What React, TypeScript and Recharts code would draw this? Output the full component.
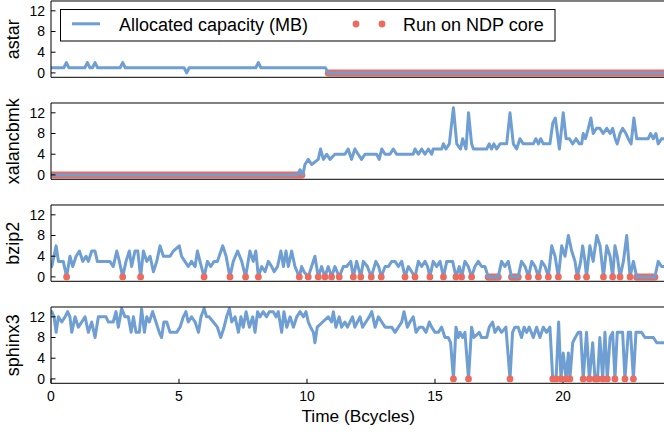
import React from 'react';
import { ComposedChart, Line, XAxis, YAxis } from 'recharts';

type Pt = [number, number];

// time (Bcycles), allocated capacity (MB)
const astar: Pt[] = [
  [0, 1], [0.5, 1], [0.6, 2], [0.7, 1], [1.32, 1], [1.42, 2], [1.52, 1], [1.62, 1], [1.72, 2], [1.82, 1],
  [2.7, 1], [2.8, 2], [2.9, 1], [5.2, 1], [5.3, 0], [5.4, 1], [8.0, 1], [8.1, 2], [8.2, 1], [10.72, 1],
  [10.83, 0], [24.2, 0],
];
const astarNdpDots: number[] = [];
const astarNdpRuns: Pt[] = [[10.83, 24.5]];

const xalanc: Pt[] = [
  [0, 0], [9.62, 0], [9.73, 1], [9.84, 0], [9.92, 2], [10.05, 3], [10.18, 2], [10.31, 2.5], [10.44, 3], [10.53, 5],
  [10.64, 3], [10.77, 4], [10.9, 3], [11.09, 4], [11.48, 4], [11.61, 5], [11.74, 3], [11.87, 5], [12.0, 4], [12.13, 3],
  [12.27, 4], [12.72, 4], [12.82, 3], [12.92, 5], [13.05, 4], [13.24, 4], [13.37, 5], [13.5, 4], [14.15, 4], [14.22, 5],
  [14.35, 4], [14.48, 5], [14.61, 4], [14.74, 5], [14.87, 4], [14.93, 5], [15.26, 5], [15.33, 6], [15.43, 5], [15.56, 6],
  [15.72, 13], [15.85, 6], [16.0, 5], [16.08, 7], [16.21, 5], [16.31, 12], [16.43, 6], [16.5, 5], [17.02, 5], [17.12, 6],
  [17.21, 5], [17.3, 6], [17.41, 5], [17.54, 6], [17.8, 6], [17.93, 12], [18.06, 6], [18.19, 5], [18.32, 7], [18.45, 6],
  [18.84, 6], [18.94, 7], [19.04, 6], [19.13, 7], [19.23, 6], [19.49, 6], [19.6, 10], [19.7, 11], [19.86, 5], [20.01, 12],
  [20.12, 7], [20.25, 7], [20.38, 6], [20.51, 7], [20.64, 6], [20.73, 6], [20.79, 8], [20.88, 7], [20.99, 9], [21.09, 11],
  [21.18, 8], [21.31, 9], [21.44, 9], [21.57, 8], [21.71, 9], [21.84, 8], [21.94, 9], [22.04, 7], [22.12, 6], [22.23, 8],
  [22.33, 9], [22.46, 8], [22.55, 7], [22.66, 6], [22.77, 11], [22.88, 7], [23.33, 7], [23.42, 8], [23.53, 7], [23.63, 8],
  [23.72, 6], [23.85, 7], [23.98, 7], [24.2, 7],
];
const xalancNdpDots: number[] = [];
const xalancNdpRuns: Pt[] = [[0, 9.8]];

const bzip2: Pt[] = [
  [0, 2], [0.03, 2], [0.2, 6], [0.29, 3], [0.48, 3], [0.61, 0], [0.74, 4], [0.85, 2], [0.98, 4], [1.11, 5],
  [1.24, 3], [1.37, 4], [1.46, 3], [1.59, 5], [1.72, 5], [1.81, 3], [2.3, 3], [2.43, 2], [2.57, 5], [2.67, 3],
  [2.8, 0], [2.93, 3], [3.06, 5], [3.15, 2], [3.28, 5], [3.39, 5], [3.5, 0], [3.61, 5], [3.74, 3], [3.87, 4],
  [4.0, 1], [4.13, 3], [4.26, 6], [4.39, 4], [4.65, 4], [4.78, 5], [5.01, 6], [5.1, 4], [5.23, 3], [5.36, 2],
  [5.49, 3], [5.63, 2], [5.72, 5], [5.82, 3], [5.98, 0], [6.11, 3], [6.24, 2], [6.37, 3], [6.5, 3], [6.71, 6],
  [6.84, 4], [6.99, 0], [7.12, 3], [7.29, 5], [7.45, 3], [7.6, 0], [7.77, 5], [7.9, 3], [8.0, 5], [8.1, 0],
  [8.23, 2], [8.36, 1], [8.49, 3], [8.62, 2], [8.72, 1], [8.85, 2], [8.98, 5], [9.08, 2], [9.18, 5], [9.27, 2],
  [9.4, 5], [9.53, 2], [9.7, 0], [9.79, 2], [9.88, 1], [10.05, 0], [10.18, 2], [10.31, 4], [10.44, 0], [10.57, 2],
  [10.7, 0], [10.83, 2], [10.96, 0], [11.09, 2], [11.26, 0], [11.42, 2], [11.55, 2], [11.71, 3], [11.81, 0], [11.94, 3],
  [12.1, 0], [12.2, 3], [12.36, 2], [12.51, 0], [12.69, 3], [12.8, 2], [12.9, 0], [13.05, 2], [13.18, 2], [13.31, 3],
  [13.44, 3], [13.57, 2], [13.7, 3], [13.83, 0], [13.96, 2], [14.09, 1], [14.22, 0], [14.35, 3], [14.48, 2], [14.61, 3],
  [14.71, 2], [14.8, 0], [14.93, 3], [15.07, 2], [15.2, 3], [15.33, 0], [15.46, 3], [15.69, 3], [15.82, 0], [15.95, 2],
  [16.04, 0], [16.17, 3], [16.3, 2], [16.43, 0], [16.56, 2], [16.69, 3], [16.82, 2], [16.95, 2], [17.08, 0], [17.47, 0],
  [17.6, 3], [17.73, 2], [17.86, 3], [17.99, 0], [18.25, 0], [18.38, 3], [18.52, 2], [18.65, 0], [18.78, 3], [18.91, 2],
  [19.04, 0], [19.17, 3], [19.3, 2], [19.43, 0], [19.56, 6], [19.69, 4], [19.82, 0], [19.95, 6], [20.08, 4], [20.21, 8],
  [20.34, 5], [20.47, 3], [20.56, 0], [20.69, 3], [20.77, 6], [20.86, 3], [20.92, 0], [21.05, 6], [21.18, 3], [21.32, 8],
  [21.45, 6], [21.58, 0], [21.71, 6], [21.84, 4], [21.94, 0], [22.03, 6], [22.12, 4], [22.23, 0], [22.36, 3], [22.49, 8],
  [22.62, 0], [22.75, 3], [22.88, 0], [23.59, 0], [23.72, 3], [23.85, 2], [23.98, 2], [24.2, 2],
];
const bzip2NdpDots: number[] = [
  0.61, 2.8, 3.5, 5.98, 6.99, 7.6, 8.1, 9.7, 10.05, 10.44, 10.7, 10.96, 11.26, 11.81, 12.1, 12.51, 12.9,
  13.83, 14.22, 14.8, 15.33, 15.82, 16.04, 16.43, 18.65, 19.04, 19.43, 19.82, 20.56, 20.92, 21.58, 21.94, 22.23, 22.62,
];
const bzip2NdpRuns: Pt[] = [[17.08, 17.47], [17.99, 18.25], [22.88, 23.59]];

const sphinx3: Pt[] = [
  [0, 12.5], [0.03, 13], [0.12, 12], [0.2, 9], [0.29, 12], [0.42, 11], [0.55, 12], [0.65, 13], [0.74, 12], [0.81, 9],
  [0.94, 12], [1.07, 10], [1.2, 11], [1.33, 12], [1.46, 9], [1.59, 11], [1.72, 8], [1.85, 12], [2.15, 12], [2.24, 11],
  [2.43, 11], [2.54, 13], [2.63, 10], [2.76, 13.6], [2.89, 12], [3.02, 12], [3.13, 9], [3.22, 12], [3.32, 9], [3.45, 9],
  [3.54, 13.5], [3.65, 9], [3.74, 12], [3.84, 11], [3.97, 13], [4.1, 11], [4.23, 9], [4.32, 8], [4.41, 11], [4.52, 11],
  [4.65, 9], [4.91, 9], [5.04, 10], [5.17, 12], [5.27, 13], [5.36, 11], [5.49, 12], [5.63, 11], [5.76, 9], [5.86, 12],
  [5.98, 13.6], [6.08, 12], [6.18, 12], [6.34, 11], [6.5, 10], [6.63, 8], [6.76, 10], [6.86, 12], [6.97, 13.6], [7.06, 11],
  [7.19, 12], [7.32, 9], [7.42, 12], [7.51, 10], [7.62, 13], [7.75, 10], [7.88, 12], [7.97, 9], [8.07, 13], [8.16, 12],
  [8.29, 13], [8.42, 12], [8.53, 13], [8.68, 13], [8.79, 12], [8.88, 13], [9.01, 9], [9.1, 13], [9.21, 10], [9.34, 12],
  [9.47, 10], [9.6, 12], [9.73, 13], [9.86, 12], [9.96, 13], [10.05, 11], [10.14, 10], [10.25, 9], [10.31, 7], [10.4, 10],
  [10.61, 11], [10.83, 12], [10.96, 11], [11.03, 13], [11.13, 10], [11.26, 12], [11.35, 10], [11.48, 11], [11.58, 10], [11.68, 11],
  [11.78, 12], [11.87, 10], [11.97, 11], [12.07, 12], [12.17, 10], [12.3, 11], [12.43, 12], [12.53, 13], [12.66, 10], [12.79, 12],
  [12.92, 11], [13.05, 10], [13.31, 10], [13.44, 9], [13.57, 10], [13.7, 11], [13.79, 13], [13.92, 10], [14.02, 11], [14.15, 12],
  [14.26, 9], [14.39, 10], [14.52, 10], [14.65, 9], [14.78, 11], [14.87, 10], [15.0, 9], [15.13, 9], [15.26, 10], [15.39, 8],
  [15.52, 8], [15.61, 7], [15.72, 0], [15.82, 10], [15.91, 8], [15.98, 9], [16.08, 8], [16.17, 9], [16.31, 0], [16.43, 10],
  [16.52, 8], [16.73, 9], [16.82, 8], [17.02, 8], [17.12, 10], [17.25, 11], [17.34, 9], [17.47, 10], [17.6, 9], [17.77, 10],
  [17.93, 0], [18.03, 9], [18.12, 10], [18.25, 10], [18.38, 8], [18.48, 10], [18.58, 9], [18.68, 10], [18.84, 8], [18.97, 10],
  [19.1, 8], [19.23, 10], [19.36, 9], [19.49, 10], [19.6, 0], [19.73, 0], [19.83, 11], [19.92, 0], [20.01, 5], [20.12, 0],
  [20.21, 5], [20.27, 0], [20.38, 7], [20.48, 8], [20.6, 9], [20.69, 9], [20.79, 0], [20.92, 9], [21.03, 0], [21.16, 7],
  [21.25, 0], [21.35, 0], [21.44, 8], [21.55, 0], [21.64, 9], [21.73, 0], [21.84, 8], [21.94, 9], [22.03, 0], [22.12, 9],
  [22.33, 9], [22.42, 0], [22.55, 9], [22.64, 9], [22.75, 0], [22.85, 9], [23.07, 9], [23.2, 8], [23.53, 8], [23.66, 7],
  [23.92, 7], [24.2, 7],
];
const sphinx3NdpDots: number[] = [
  15.72, 16.31, 17.93, 19.6, 19.73, 19.92, 20.12, 20.27, 20.79, 21.03, 21.25, 21.35, 21.55, 21.73, 22.03, 22.42, 22.75,
];
const sphinx3NdpRuns: Pt[] = [];

const xTicks = [0, 5, 10, 15, 20];
const topTicks = [5, 10, 15, 20];
const yTicks = [0, 4, 8, 12];

const FONT = '"Liberation Sans", Arial, Helvetica, sans-serif';
const BLUE = '#6e9ed2';
const RED = '#ec6a5e';
const X_MAX = 24;
const Y_DOMAIN: [number, number] = [-0.85, 13.9];
const LEFT_W = 51;
const RIGHT_W = 20;
const PLOT_W = 614.4;
const PLOT_H = 76.3;
const CHART_W = LEFT_W + PLOT_W + RIGHT_W;
const BOTTOM_H = 50;

const toRows = (pts: Pt[]) => pts.map(([t, v]) => ({ t, v }));
const dotRows = (ts: number[]) => ts.map((t) => ({ t, v: 0 }));
const runRows = (runs: Pt[]) =>
  runs.flatMap(([a, b]) => [{ t: a, v: 0 }, { t: b, v: 0 }, { t: b, v: null as number | null }]);

const SideTitle = (props: any) => {
  const vb = props.viewBox || { y: 1, height: PLOT_H };
  const cy = vb.y + vb.height / 2;
  return (
    <text transform={`translate(19.3, ${cy}) rotate(-90)`} textAnchor="middle" fontSize={18} fontFamily={FONT} fill="#000">
      {props.text}
    </text>
  );
};

const BottomTitle = (props: any) => {
  const vb = props.viewBox || { x: LEFT_W, y: PLOT_H + 1, width: PLOT_W };
  return (
    <text x={vb.x + vb.width / 2} y={vb.y + 39.2} textAnchor="middle" fontSize={17.3} fontFamily={FONT} fill="#000">
      Time (Bcycles)
    </text>
  );
};

interface PanelProps {
  name: string;
  series: Pt[];
  dots: number[];
  runs: Pt[];
  top: number;
  showX?: boolean;
}

const Panel: React.FC<PanelProps> = ({ name, series, dots, runs, top, showX = false }) => {
  const bottomH = showX ? BOTTOM_H : 2;
  const axisStroke = { stroke: '#000', strokeWidth: 1 };
  return (
    <div style={{ position: 'absolute', left: 0, top: top - 1 }}>
      <ComposedChart width={CHART_W} height={1 + PLOT_H + bottomH} margin={{ top: 0, right: 0, bottom: 0, left: 0 }}>
        <XAxis
          xAxisId="top"
          orientation="top"
          type="number"
          domain={[0, X_MAX]}
          allowDataOverflow
          ticks={topTicks}
          height={1}
          tick={false}
          tickSize={-4.5}
          axisLine={axisStroke}
          tickLine={axisStroke}
        />
        <XAxis
          dataKey="t"
          type="number"
          domain={[0, X_MAX]}
          allowDataOverflow
          ticks={xTicks}
          interval={0}
          height={bottomH}
          tickSize={-4.5}
          tickMargin={11.8}
          tick={showX ? { fill: '#000', fontSize: 14, fontFamily: FONT } : false}
          axisLine={axisStroke}
          tickLine={axisStroke}
          label={showX ? <BottomTitle /> : undefined}
        />
        <YAxis
          dataKey="v"
          type="number"
          domain={Y_DOMAIN}
          allowDataOverflow
          ticks={yTicks}
          interval={0}
          width={LEFT_W}
          tickSize={-4.5}
          tickMargin={10.5}
          tick={{ fill: '#000', fontSize: 14, fontFamily: FONT }}
          axisLine={axisStroke}
          tickLine={axisStroke}
          label={<SideTitle text={name} />}
        />
        <YAxis
          yAxisId="r"
          orientation="right"
          type="number"
          domain={Y_DOMAIN}
          allowDataOverflow
          ticks={yTicks}
          width={RIGHT_W}
          tickSize={-4.5}
          tick={false}
          axisLine={axisStroke}
          tickLine={axisStroke}
        />
        <Line
          data={runRows(runs)}
          dataKey="v"
          type="linear"
          stroke={RED}
          strokeWidth={7}
          strokeLinecap="round"
          dot={false}
          activeDot={false}
          connectNulls={false}
          isAnimationActive={false}
        />
        <Line
          data={dotRows(dots)}
          dataKey="v"
          type="linear"
          stroke="none"
          dot={{ r: 3.4, fill: RED, stroke: 'none', strokeWidth: 0 }}
          activeDot={false}
          isAnimationActive={false}
        />
        <Line
          data={toRows(series)}
          dataKey="v"
          type="linear"
          stroke={BLUE}
          strokeWidth={3}
          strokeLinejoin="round"
          dot={false}
          activeDot={false}
          isAnimationActive={false}
        />
      </ComposedChart>
    </div>
  );
};

const LegendBox = () => (
  <svg width={664} height={50} style={{ position: 'absolute', left: 0, top: 0 }}>
    <rect x={60.5} y={9.5} width={494.5} height={31.5} fill="#fff" stroke="#000" strokeWidth={1} />
    <line x1={72} y1={23.8} x2={100} y2={23.8} stroke={BLUE} strokeWidth={3} />
    <text x={119} y={31} fontSize={18} fontFamily={FONT} fill="#000">Allocated capacity (MB)</text>
    <circle cx={356} cy={24} r={3.4} fill={RED} />
    <circle cx={382} cy={24} r={3.4} fill={RED} />
    <text x={403} y={31} fontSize={18} fontFamily={FONT} fill="#000">Run on NDP core</text>
  </svg>
);

const App: React.FC = () => (
  <div style={{ position: 'absolute', left: 0, top: 0, width: 664, height: 434, overflow: 'hidden', background: '#fff', fontFamily: FONT }}>
    <style>{'.recharts-surface { overflow: visible; } .recharts-wrapper { overflow: visible; }'}</style>
    <Panel name="astar" series={astar} dots={astarNdpDots} runs={astarNdpRuns} top={0.5} />
    <Panel name="xalancbmk" series={xalanc} dots={xalancNdpDots} runs={xalancNdpRuns} top={102.8} />
    <Panel name="bzip2" series={bzip2} dots={bzip2NdpDots} runs={bzip2NdpRuns} top={205} />
    <Panel name="sphinx3" series={sphinx3} dots={sphinx3NdpDots} runs={sphinx3NdpRuns} top={307.2} showX />
    <LegendBox />
  </div>
);

export default App;
